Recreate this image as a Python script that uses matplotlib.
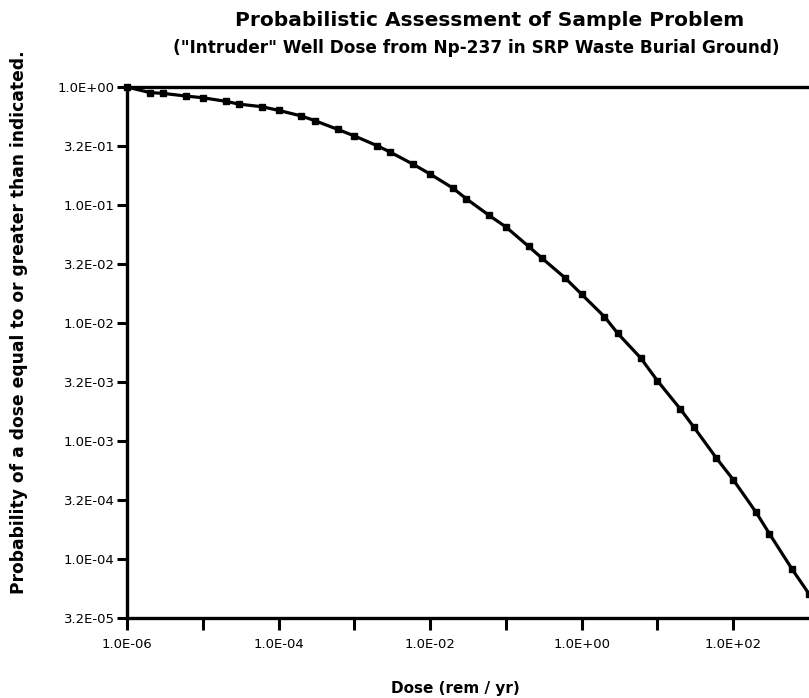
import matplotlib
matplotlib.use("Agg")
import matplotlib.pyplot as plt
from matplotlib.ticker import FixedLocator, NullLocator

plt.rcParams['font.family'] = ['DejaVu Sans']

# Dose values (rem/yr) and exceedance probability
dose = [1e-6, 2e-6, 3e-6, 6e-6,
        1e-5, 2e-5, 3e-5, 6e-5,
        1e-4, 2e-4, 3e-4, 6e-4,
        1e-3, 2e-3, 3e-3, 6e-3,
        1e-2, 2e-2, 3e-2, 6e-2,
        1e-1, 2e-1, 3e-1, 6e-1,
        1e0, 2e0, 3e0, 6e0,
        1e1, 2e1, 3e1, 6e1,
        1e2, 2e2, 3e2, 6e2,
        1e3]
prob = [1.0, 0.897, 0.883, 0.838,
        0.811, 0.757, 0.716, 0.681,
        0.634, 0.568, 0.519, 0.438,
        0.385, 0.318, 0.280, 0.221,
        0.183, 0.139, 0.113, 0.0817,
        0.0652, 0.0445, 0.0354, 0.0242,
        0.0175, 0.0113, 0.00815, 0.00506,
        0.00324, 0.00187, 0.00132, 0.000716,
        0.000470, 0.000249, 0.000164, 8.18e-5,
        5.06e-5]

xtick_exp = [-6, -5, -4, -3, -2, -1, 0, 1, 2]
xtick_labels = ["1.0E-06", "", "1.0E-04", "", "1.0E-02", "", "1.0E+00", "", "1.0E+02"]
ytick_exp = [0, -0.5, -1, -1.5, -2, -2.5, -3, -3.5, -4, -4.5]
ytick_labels = ["1.0E+00", "3.2E-01", "1.0E-01", "3.2E-02", "1.0E-02", "3.2E-03",
                "1.0E-03", "3.2E-04", "1.0E-04", "3.2E-05"]

fig = plt.figure(figsize=(8.09, 6.98), dpi=100)
ax = fig.add_axes([127/809, 1 - 618/698, (809 - 127)/809, (618 - 87)/698])

ax.plot(dose, prob, color='black', linewidth=2.3, marker='s', markersize=4.3,
        markerfacecolor='black', markeredgecolor='black', clip_on=False, zorder=3)

ax.set_xscale('log')
ax.set_yscale('log')
ax.set_xlim(1e-6, 1e3)
ax.set_ylim(10**-4.5, 1.0)

ax.xaxis.set_major_locator(FixedLocator([10.0**e for e in xtick_exp]))
ax.set_xticklabels(xtick_labels)
ax.xaxis.set_minor_locator(NullLocator())
ax.yaxis.set_major_locator(FixedLocator([10.0**e for e in ytick_exp]))
ax.set_yticklabels(ytick_labels)
ax.yaxis.set_minor_locator(NullLocator())

ax.tick_params(axis='x', direction='out', length=8.5, width=2.2, labelsize=9.5, pad=6)
ax.tick_params(axis='y', direction='out', length=7, width=2.2, labelsize=9.5, pad=2)

for s in ['left', 'bottom', 'top']:
    ax.spines[s].set_linewidth(2.4)
ax.spines['right'].set_visible(False)

fig.text(455/809, 1 - 689/698, "Dose (rem / yr)", ha='center', va='center',
         fontsize=11, fontweight='bold')
fig.text(19/809, 1 - 322/698, "Probability of a dose equal to or greater than indicated.",
         rotation=90, ha='center', va='center', fontsize=12.3, fontweight='bold')

fig.text(490/809, 1 - 21/698, "Probabilistic Assessment of Sample Problem",
         ha='center', va='center', fontsize=14.5, fontweight='bold')
fig.text(476/809, 1 - 48/698, "(\"Intruder\" Well Dose from Np-237 in SRP Waste Burial Ground)",
         ha='center', va='center', fontsize=12.2, fontweight='bold')

fig.savefig("out.png", dpi=100)
